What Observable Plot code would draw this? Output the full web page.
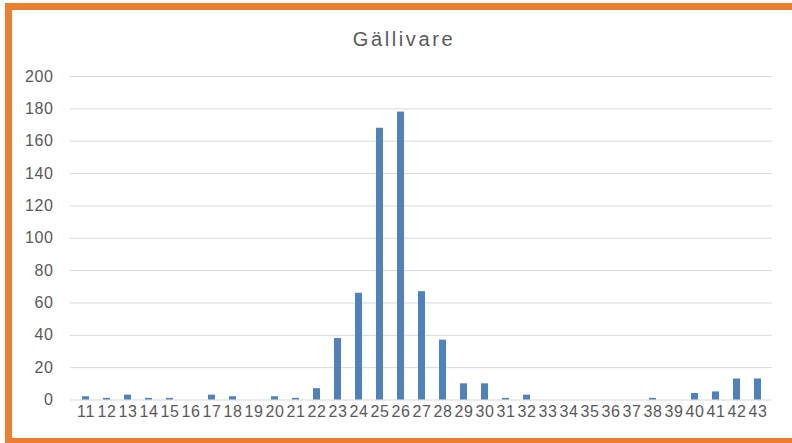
<!DOCTYPE html>
<html>
<head>
<meta charset="utf-8">
<script src="https://cdn.jsdelivr.net/npm/d3@7"></script>
<script src="https://cdn.jsdelivr.net/npm/@observablehq/plot@0.6"></script>
<style>
  html, body { margin: 0; padding: 0; background: #fff; overflow: hidden; }
  #wrap { position: relative; width: 792px; height: 443px; overflow: hidden; }
  #frame { position: absolute; left: 5px; top: 3px; width: 900px; height: 442px; box-sizing: border-box; border: 7px solid #ED7D31; pointer-events: none; }
  #title { position: absolute; left: 0; width: 808px; top: 28px; text-align: center; font-family: "Liberation Sans", sans-serif; font-size: 20px; letter-spacing: 2.6px; color: #595959; }
  #chart { position: absolute; left: 0; top: 0; }
  #chart svg text { font-family: "Liberation Sans", sans-serif !important; font-size: 16px !important; letter-spacing: 0.6px; }
</style>
</head>
<body>
<div id="wrap">
  <div id="chart"></div>
  <div id="title">Gällivare</div>
  <div id="frame"></div>
</div>
<script>
const categories = ["11","12","13","14","15","16","17","18","19","20","21","22","23","24","25","26","27","28","29","30","31","32","33","34","35","36","37","38","39","40","41","42","43"];
const counts = [2,1,3,1,1,0,3,2,0,2,1,7,38,66,168,178,67,37,10,10,1,3,0,0,0,0,0,1,0,4,5,13,13];
const yTicks = [0,20,40,60,80,100,120,140,160,180,200];

const data = categories.map((c, i) => ({category: c, count: counts[i]}));

const chart = Plot.plot({
  width: 792,
  height: 443,
  marginLeft: 70,
  marginRight: 20,
  marginTop: 76,
  marginBottom: 43.5,
  style: {color: "#595959", background: "transparent"},
  x: {domain: categories, paddingInner: 0.67, paddingOuter: 0.335, label: null},
  y: {domain: [0, 200], label: null},
  marks: [
    Plot.gridY(yTicks, {stroke: "#d9d9d9", strokeOpacity: 1}),
    Plot.barY(data, {x: "category", y: "count", fill: "#4F81BD"}),
    Plot.axisY(yTicks, {tickSize: 0, tickPadding: 17, label: null, fill: "#595959"}),
    Plot.axisX({tickSize: 0, tickPadding: 6, label: null, fill: "#595959"})
  ]
});
document.getElementById("chart").appendChild(chart);
</script>
</body>
</html>
